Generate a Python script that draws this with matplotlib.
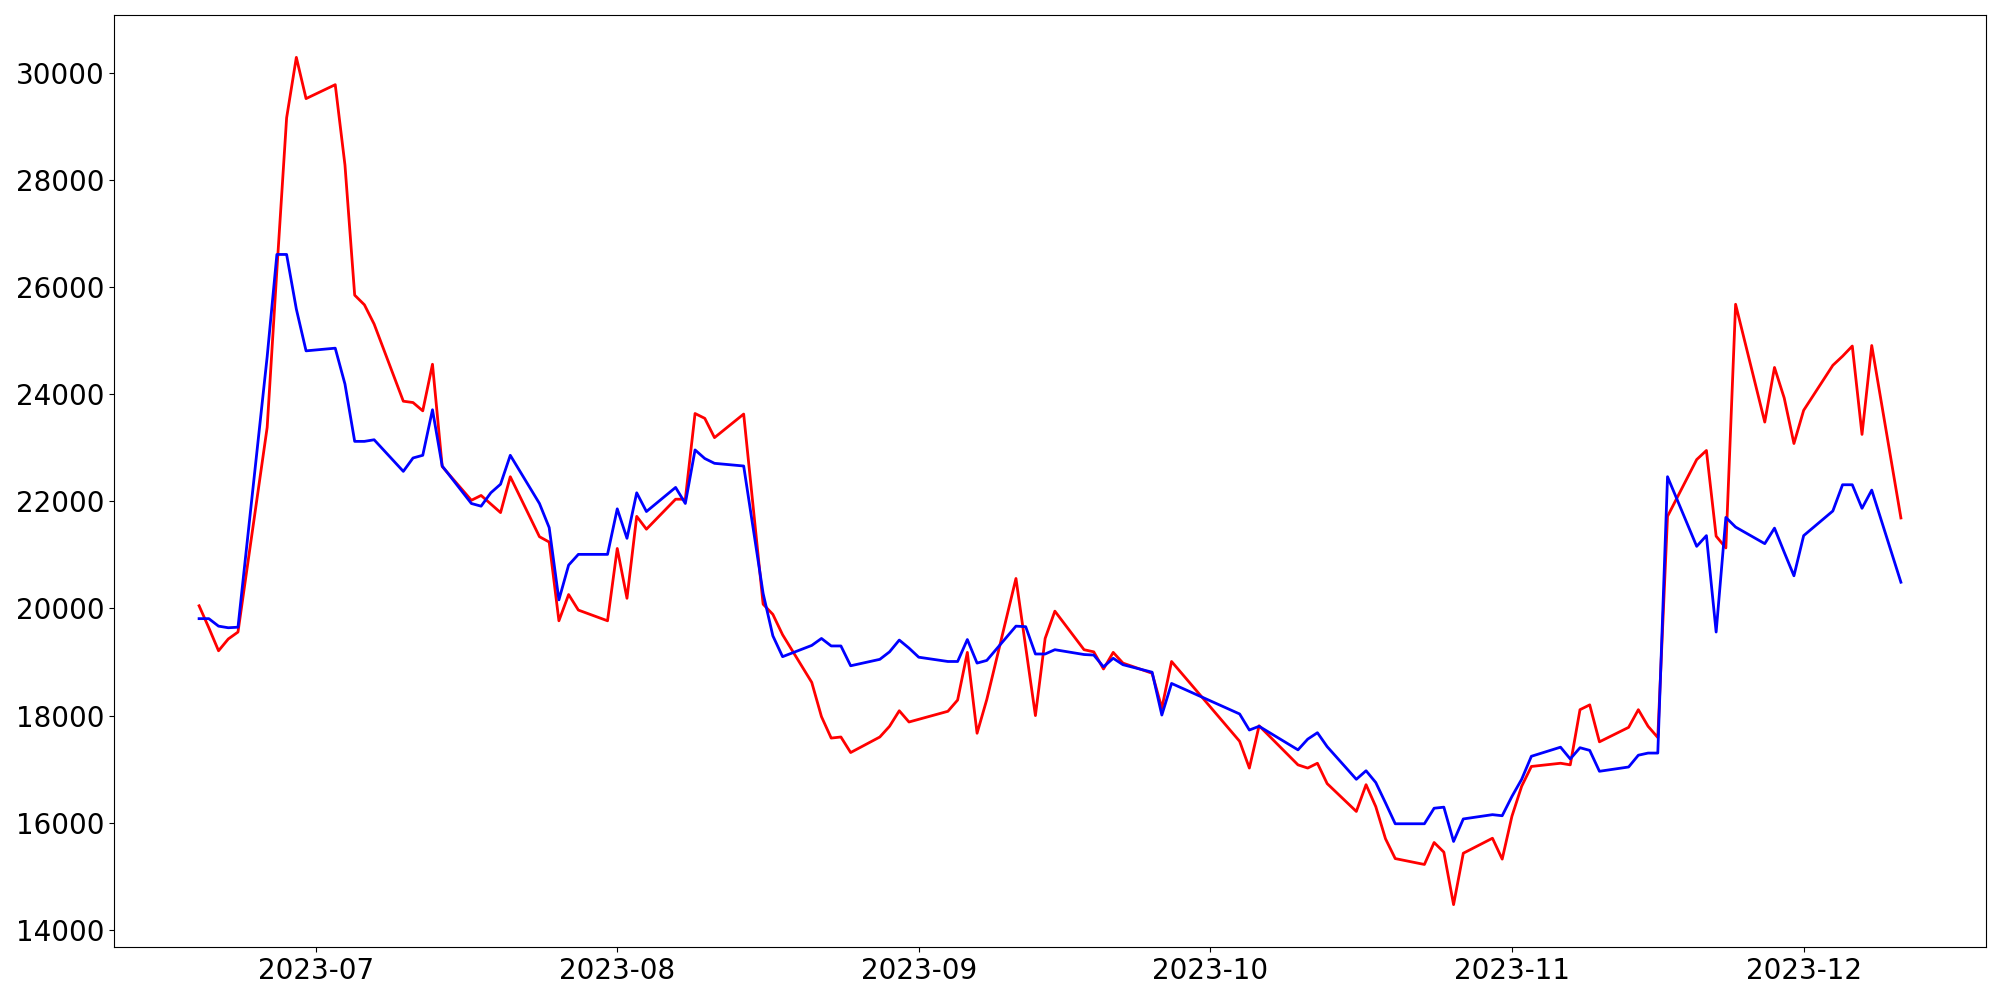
import pandas as pd
import matplotlib
matplotlib.use("Agg")
import matplotlib.pyplot as plt

# trading days (weekdays minus market holidays)
start_date = '2023-06-19'
end_date = '2023-12-11'
holidays = ['2023-08-15', '2023-09-28', '2023-09-29', '2023-10-02', '2023-10-03', '2023-10-09']

red_values = [
    20050, 19640, 19210, 19430, 19560,
    23380, 26320, 29160, 30290, 29520,
    29780, 28280, 25850, 25670, 25310,
    23870, 23845, 23690, 24560, 22650,
    22020, 22110, 21950, 21790, 22460,
    21340, 21240, 19770, 20260, 19970,
    19770, 21120, 20190, 21720, 21480,
    22040, 22040, 23640, 23550, 23190,
    23630, 20080, 19890, 19510,
    18620, 17980, 17580, 17600, 17310,
    17600, 17800, 18090, 17880, 17930,
    18080, 18290, 19180, 17670, 18300,
    20560, 19280, 18000, 19440, 19950,
    19230, 19190, 18870, 19180, 18980,
    18790, 18140, 19010,
    17520, 17020, 17810,
    17080, 17020, 17110, 16730,
    16210, 16710, 16300, 15700, 15330,
    15220, 15630, 15450, 14470, 15430,
    15710, 15320, 16120, 16680, 17050,
    17110, 17080, 18110, 18200, 17510,
    17780, 18110, 17800, 17590, 21720,
    22780, 22950, 21350, 21130, 25680,
    23480, 24500, 23930, 23080, 23700,
    24540, 24710, 24900, 23250, 24910,
    21690,
]

blue_values = [
    19810, 19810, 19670, 19640, 19650,
    24700, 26610, 26610, 25590, 24810,
    24860, 24190, 23120, 23120, 23150,
    22560, 22810, 22860, 23710, 22660,
    21960, 21910, 22160, 22320, 22860,
    21960, 21510, 20160, 20810, 21010,
    21010, 21860, 21310, 22160, 21810,
    22260, 21960, 22960, 22800, 22710,
    22660, 20280, 19490, 19100,
    19310, 19440, 19300, 19300, 18930,
    19050, 19190, 19410, 19260, 19090,
    19010, 19010, 19420, 18980, 19030,
    19670, 19660, 19150, 19150, 19230,
    19140, 19130, 18910, 19070, 18950,
    18810, 18010, 18600,
    18030, 17730, 17800,
    17360, 17560, 17680, 17420,
    16810, 16970, 16750, 16370, 15980,
    15980, 16270, 16290, 15650, 16070,
    16150, 16130, 16490, 16810, 17240,
    17410, 17190, 17400, 17350, 16960,
    17040, 17260, 17300, 17300, 22460,
    21160, 21360, 19560, 21700, 21520,
    21210, 21500, 21050, 20610, 21360,
    21820, 22310, 22310, 21870, 22210,
    20490,
]

dates = pd.bdate_range(start_date, end_date)
dates = dates[~dates.isin(pd.to_datetime(holidays))]

fig, ax = plt.subplots(figsize=(20, 10), dpi=100)
ax.plot(dates, red_values, color='red', linewidth=2)
ax.plot(dates, blue_values, color='blue', linewidth=2)
ax.tick_params(axis='both', labelsize=20)
plt.subplots_adjust(left=0.057, right=0.993, top=0.985, bottom=0.053)
plt.savefig('out.png')
